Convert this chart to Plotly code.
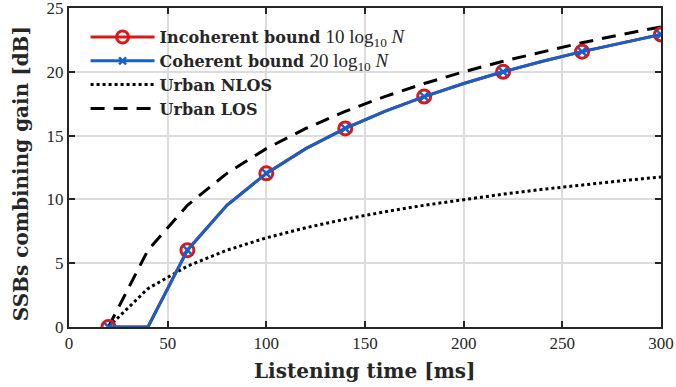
import plotly.graph_objects as go

# Listening time [ms]
time_ms = [20, 40, 60, 80, 100, 120, 140, 160, 180, 200, 220, 240, 260, 280, 300]
# Incoherent / coherent bound curves (identical values as read)
bound_db = [0, 0, 6.02, 9.54, 12.04, 13.98, 15.56, 16.90, 18.06, 19.08, 20.0, 20.83, 21.58, 22.28, 22.92]
# Urban NLOS / LOS
nlos_db = [0, 3.01, 4.77, 6.02, 6.99, 7.78, 8.45, 9.03, 9.54, 10.0, 10.41, 10.79, 11.14, 11.46, 11.76]
los_db = [0, 6.02, 9.54, 12.04, 13.98, 15.56, 16.90, 18.06, 19.08, 20.0, 20.83, 21.58, 22.28, 22.92, 23.52]

x_ticks = [0, 50, 100, 150, 200, 250, 300]
y_ticks = [0, 5, 10, 15, 20, 25]

mk_t = time_ms[::2]
mk_y = bound_db[::2]

RED = "#D7191C"
BLUE = "#1660CC"
SERIF = "Liberation Serif"
BOLD = "DejaVu Serif"
INK = "#262626"
LW = 3
DASH = "14px,9px"


def math(s):
    return f'<span style="font-family:{SERIF};font-size:19px;font-weight:normal">{s}</span>'


fig = go.Figure()
fig.add_trace(go.Scatter(x=time_ms, y=nlos_db, mode="lines", showlegend=False,
                         line=dict(color="black", width=LW, dash="dot")))
fig.add_trace(go.Scatter(x=time_ms, y=los_db, mode="lines", showlegend=False,
                         line=dict(color="black", width=LW, dash=DASH)))
fig.add_trace(go.Scatter(x=time_ms, y=bound_db, mode="lines", showlegend=False,
                         line=dict(color=RED, width=LW)))
fig.add_trace(go.Scatter(x=mk_t, y=mk_y, mode="markers", showlegend=False,
                         marker=dict(symbol="circle-open", size=13, color=RED, line=dict(width=3, color=RED))))
fig.add_trace(go.Scatter(x=time_ms, y=bound_db, mode="lines", showlegend=False,
                         line=dict(color=BLUE, width=LW)))
fig.add_trace(go.Scatter(x=mk_t, y=mk_y, mode="markers", showlegend=False,
                         marker=dict(symbol="x-thin-open", size=8, color=BLUE, line=dict(width=2.5, color=BLUE))))

# legend entries
fig.add_trace(go.Scatter(x=[None], y=[None], mode="lines+markers",
                         name="<b>Incoherent bound</b> " + math("10 log<sub>10</sub> <i>N</i>"),
                         line=dict(color=RED, width=LW),
                         marker=dict(symbol="circle-open", size=12, color=RED, line=dict(width=3, color=RED))))
fig.add_trace(go.Scatter(x=[None], y=[None], mode="lines+markers",
                         name="<b>Coherent bound</b> " + math("20 log<sub>10</sub> <i>N</i>"),
                         line=dict(color=BLUE, width=LW),
                         marker=dict(symbol="x-thin-open", size=7, color=BLUE, line=dict(width=2.5, color=BLUE))))
fig.add_trace(go.Scatter(x=[None], y=[None], mode="lines", name="<b>Urban NLOS</b>",
                         line=dict(color="black", width=LW, dash="dot")))
fig.add_trace(go.Scatter(x=[None], y=[None], mode="lines", name="<b>Urban LOS</b>",
                         line=dict(color="black", width=LW, dash=DASH)))

axis_common = dict(showline=True, linecolor=INK, linewidth=2, mirror="ticks",
                   ticks="inside", ticklen=6, tickwidth=1.5, tickcolor=INK,
                   showgrid=True, gridcolor="#DCDCDC", gridwidth=1.5, zeroline=False,
                   automargin=False, ticklabeloverflow="allow",
                   tickfont=dict(family=SERIF, size=17, color=INK))

fig.update_layout(
    width=676, height=387,
    margin=dict(l=69, r=15, t=8, b=60),
    plot_bgcolor="white", paper_bgcolor="white",
    xaxis=dict(range=[0, 300], tickvals=x_ticks, **axis_common),
    yaxis=dict(range=[0, 25], tickvals=y_ticks, **axis_common),
    legend=dict(x=0.028, y=0.962, xanchor="left", yanchor="top",
                bgcolor="rgba(0,0,0,0)", borderwidth=0,
                font=dict(family=BOLD, size=16, color=INK),
                itemwidth=64, tracegroupgap=0),
    annotations=[
        dict(text="<b>Listening time [ms]</b>", xref="paper", yref="paper",
             x=0.5, y=-0.138, xanchor="center", yanchor="middle", showarrow=False,
             font=dict(family=BOLD, size=20, color=INK)),
        dict(text="<b>SSBs combining gain [dB]</b>", xref="paper", yref="paper",
             x=-0.082, y=0.48, xanchor="center", yanchor="middle", showarrow=False,
             textangle=-90, font=dict(family=BOLD, size=20, color=INK)),
    ],
)

fig.write_html("out.html", config={"displayModeBar": False},
               post_script="document.body.style.margin='0';")
